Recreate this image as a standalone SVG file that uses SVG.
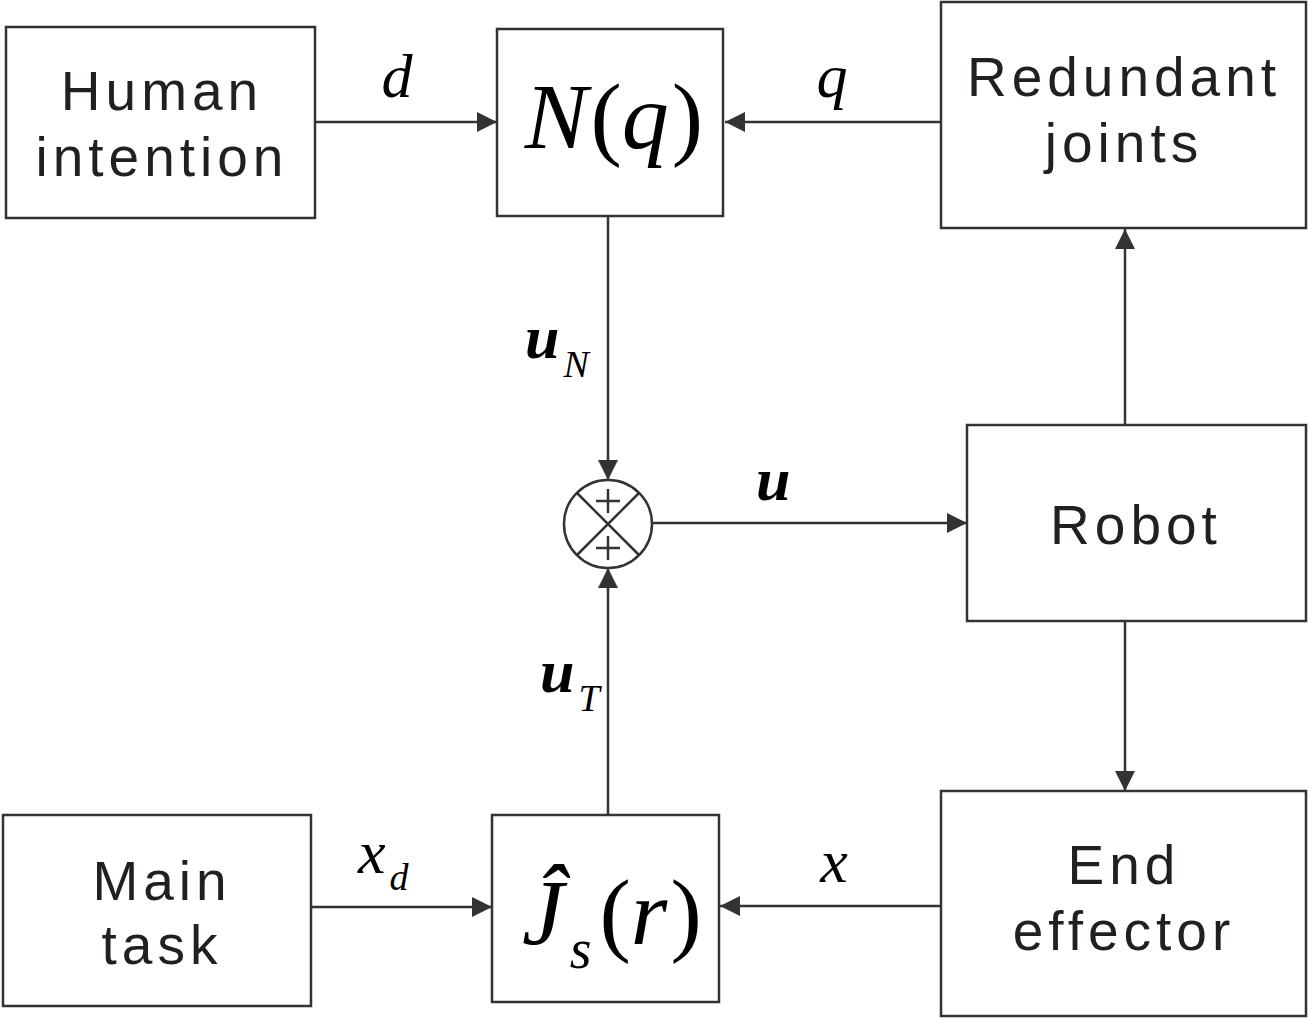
<svg xmlns="http://www.w3.org/2000/svg" width="1309" height="1020" viewBox="0 0 1309 1020">
<style>
.box{fill:#fff;stroke:#333;stroke-width:2.5}
.lbl{font-family:"Liberation Sans",Arial,sans-serif;font-size:55px;letter-spacing:5px;fill:#231f20;text-anchor:middle}
.math{font-family:"Liberation Serif","Times New Roman",serif;font-style:italic;fill:#000}
.up{font-family:"Liberation Serif","Times New Roman",serif;font-style:normal;fill:#000}
.ln{stroke:#333;stroke-width:2.5;fill:none}
</style>
<defs>
<marker id="ah" viewBox="0 0 10 10" refX="10" refY="5" markerWidth="20" markerHeight="20" markerUnits="userSpaceOnUse" orient="auto">
<path d="M0,0 L10,5 L0,10 z" fill="#333"/>
</marker>
</defs>
<g id="connectors">
<line class="ln" x1="315" y1="122" x2="497" y2="122" marker-end="url(#ah)"/>
<line class="ln" x1="941" y1="122" x2="725" y2="122" marker-end="url(#ah)"/>
<line class="ln" x1="608" y1="216" x2="608" y2="480" marker-end="url(#ah)"/>
<line class="ln" x1="608" y1="815" x2="608" y2="568" marker-end="url(#ah)"/>
<line class="ln" x1="652" y1="523" x2="967" y2="523" marker-end="url(#ah)"/>
<line class="ln" x1="1125" y1="425" x2="1125" y2="229" marker-end="url(#ah)"/>
<line class="ln" x1="1125" y1="621" x2="1125" y2="791" marker-end="url(#ah)"/>
<line class="ln" x1="941" y1="906" x2="720" y2="906" marker-end="url(#ah)"/>
<line class="ln" x1="311" y1="907" x2="492" y2="907" marker-end="url(#ah)"/>
<text class="math" x="397" y="97" font-size="62" text-anchor="middle">d</text>
<text class="math" x="832" y="97" font-size="62" text-anchor="middle">q</text>
<text class="math" x="525" y="358" font-size="62" font-weight="bold">u<tspan font-size="38" dy="19" dx="4" font-weight="normal">N</tspan></text>
<text class="math" x="756" y="500" font-size="62" font-weight="bold">u</text>
<text class="math" x="540" y="692" font-size="62" font-weight="bold">u<tspan font-size="38" dy="19" dx="4" font-weight="normal">T</tspan></text>
<text class="math" x="358" y="873" font-size="62">x<tspan font-size="38" dy="17" dx="4">d</tspan></text>
<text class="math" x="834" y="882" font-size="62" text-anchor="middle">x</text>
</g>
<g id="human-intention">
<rect class="box" x="6" y="27" width="309" height="191"/>
<text class="lbl" x="162" y="110">Human</text>
<text class="lbl" x="162" y="176">intention</text>
</g>
<g id="nq">
<rect class="box" x="497" y="29" width="226" height="187"/>
<text x="614" y="148" font-size="94" text-anchor="middle"><tspan class="math">N</tspan><tspan class="up" dx="3">(</tspan><tspan class="math">q</tspan><tspan class="up" dx="3">)</tspan></text>
</g>
<g id="redundant-joints">
<rect class="box" x="941" y="2" width="365" height="226"/>
<text class="lbl" x="1124" y="96">Redundant</text>
<text class="lbl" x="1124" y="162">joints</text>
</g>
<g id="sum">
<circle cx="608" cy="524" r="44" class="ln" fill="#fff"/>
<line class="ln" x1="577" y1="493" x2="639" y2="555"/>
<line class="ln" x1="639" y1="493" x2="577" y2="555"/>
<line class="ln" x1="596" y1="501" x2="620" y2="501"/>
<line class="ln" x1="608" y1="489" x2="608" y2="513"/>
<line class="ln" x1="596" y1="548" x2="620" y2="548"/>
<line class="ln" x1="608" y1="536" x2="608" y2="560"/>
</g>
<g id="robot">
<rect class="box" x="967" y="425" width="339" height="196"/>
<text class="lbl" x="1136" y="544">Robot</text>
</g>
<g id="main-task">
<rect class="box" x="3" y="815" width="308" height="191"/>
<text class="lbl" x="162" y="900">Main</text>
<text class="lbl" x="162" y="964">task</text>
</g>
<g id="js">
<rect class="box" x="492" y="815" width="227" height="187"/>
<text x="522" y="944" font-size="94"><tspan class="math">Ĵ</tspan><tspan class="math" font-size="56" dy="24" dx="6">s</tspan><tspan class="up" dy="-24" dx="8">(</tspan><tspan class="math">r</tspan><tspan class="up" dx="3">)</tspan></text>
</g>
<g id="end-effector">
<rect class="box" x="941" y="791" width="365" height="225"/>
<text class="lbl" x="1124" y="884">End</text>
<text class="lbl" x="1124" y="950">effector</text>
</g>
</svg>
